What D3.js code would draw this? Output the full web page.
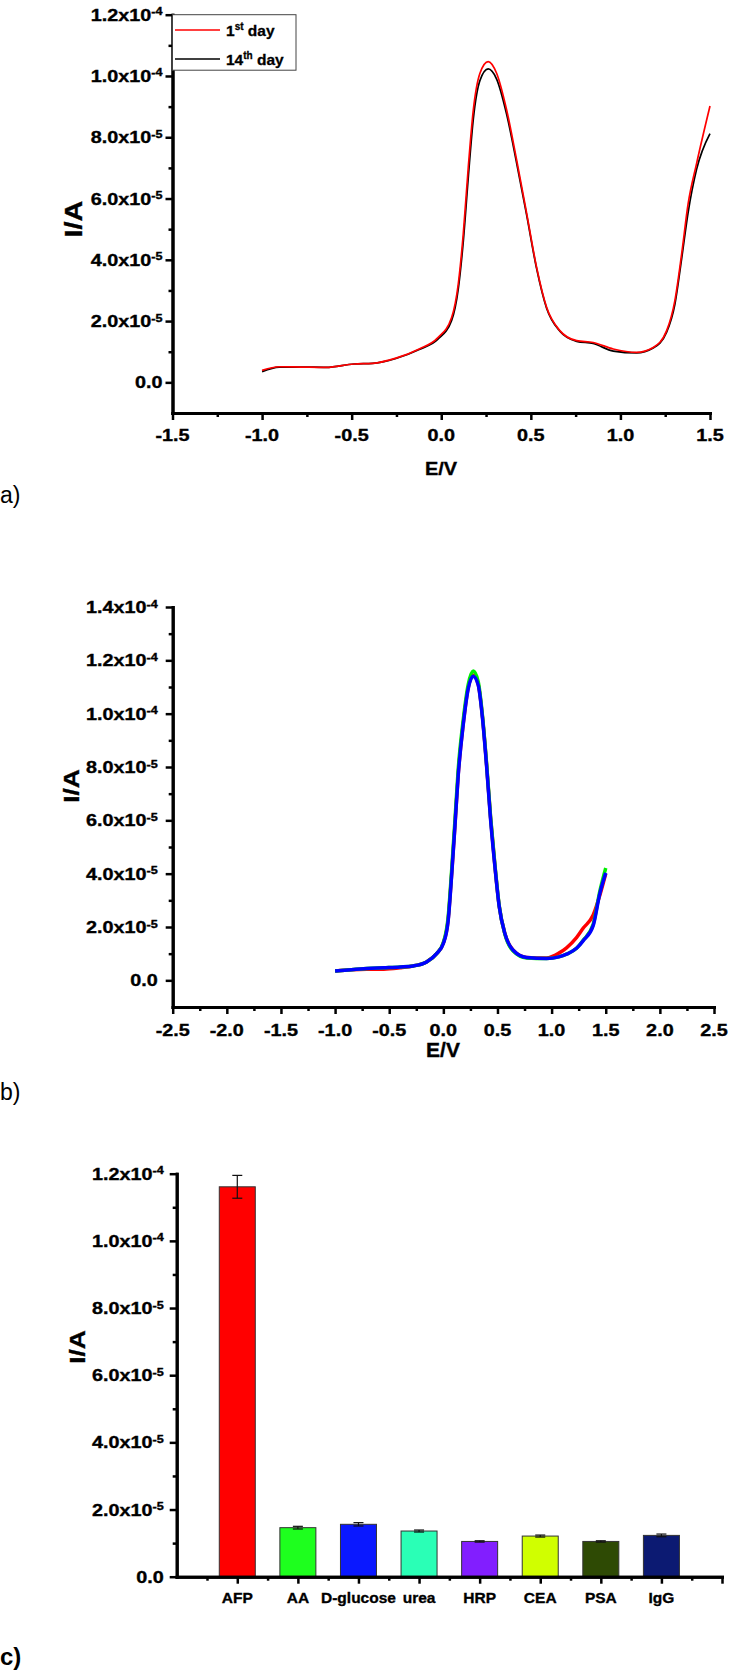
<!DOCTYPE html>
<html>
<head>
<meta charset="utf-8">
<script src="https://cdn.jsdelivr.net/npm/d3@7"></script>
<style>
  body { margin: 0; background: #fff; }
  svg text { font-family: "Liberation Sans", Arial, sans-serif; }
</style>
</head>
<body>
<svg width="729" height="1678"></svg>
<script>
//data - panel a (current in units of 1e-5 A)
const aPotential = [-1.0, -0.904, -0.78, -0.643, -0.487, -0.383, -0.253, -0.123, -0.02, 0.058, 0.095, 0.123, 0.151, 0.179, 0.216, 0.262, 0.309, 0.365, 0.421, 0.477, 0.532, 0.588, 0.662, 0.756, 0.848, 0.96, 1.09, 1.183, 1.258, 1.304, 1.342, 1.378, 1.425, 1.5];
const aDay1  = [0.39, 0.51, 0.50, 0.49, 0.60, 0.62, 0.79, 1.09, 1.45, 2.12, 3.21, 4.85, 7.03, 8.89, 10.09, 10.47, 10.09, 8.89, 7.25, 5.51, 3.76, 2.45, 1.69, 1.36, 1.30, 1.09, 0.98, 1.14, 1.69, 2.67, 4.20, 5.83, 7.14, 9.02];
const aDay14 = [0.35, 0.50, 0.50, 0.49, 0.60, 0.62, 0.78, 1.07, 1.40, 2.02, 3.05, 4.60, 6.70, 8.60, 9.85, 10.23, 9.90, 8.75, 7.15, 5.45, 3.72, 2.42, 1.67, 1.34, 1.27, 1.02, 0.96, 1.12, 1.64, 2.55, 4.05, 5.55, 6.95, 8.12];
const aLegend = [["1", "st", " day"], ["14", "th", " day"]];

//data - panel b
const bPotential = [-1.0, -0.85, -0.709, -0.55, -0.4, -0.278, -0.155, -0.062, 0.0, 0.045, 0.076, 0.107, 0.137, 0.183, 0.23, 0.276, 0.322, 0.362, 0.399, 0.436, 0.476, 0.516, 0.568, 0.645, 0.769, 0.953, 1.067, 1.138, 1.23, 1.291, 1.384, 1.446, 1.5];
const bRed   = [0.35, 0.40, 0.42, 0.42, 0.47, 0.54, 0.69, 1.00, 1.40, 2.30, 3.95, 5.80, 7.70, 9.60, 10.98, 11.45, 11.10, 9.85, 8.10, 6.10, 4.30, 2.78, 1.76, 1.13, 0.86, 0.84, 1.02, 1.22, 1.60, 1.95, 2.45, 3.20, 4.00];
const bGreen = [0.35, 0.40, 0.44, 0.47, 0.50, 0.54, 0.69, 1.00, 1.42, 2.40, 4.10, 6.00, 7.90, 9.75, 11.10, 11.60, 11.20, 9.90, 8.15, 6.15, 4.35, 2.80, 1.74, 1.10, 0.84, 0.82, 0.88, 0.98, 1.20, 1.50, 2.10, 3.35, 4.21];
const bBlue  = [0.35, 0.40, 0.44, 0.47, 0.50, 0.54, 0.69, 1.00, 1.38, 2.26, 3.90, 5.78, 7.67, 9.56, 10.94, 11.40, 11.07, 9.81, 8.05, 6.04, 4.28, 2.77, 1.76, 1.13, 0.86, 0.82, 0.88, 0.98, 1.20, 1.48, 2.05, 3.27, 4.03];

//data - panel c
const cCategories = ["AFP", "AA", "D-glucose", "urea", "HRP", "CEA", "PSA", "IgG"];
const cValues = [1.161e-4, 1.46e-5, 1.56e-5, 1.36e-5, 1.05e-5, 1.21e-5, 1.05e-5, 1.23e-5];
const cErrors = [3.4e-6, 4e-7, 5e-7, 3e-7, 2e-7, 3e-7, 2e-7, 4e-7];
const cColors = ["#ff0000", "#1eff1e", "#0a18ff", "#2affb6", "#821eff", "#d0ff00", "#2e4a04", "#0c1a72"];

//tick labels
const yLabels14 = [["0.0", ""], ["2.0x10", "-5"], ["4.0x10", "-5"], ["6.0x10", "-5"], ["8.0x10", "-5"], ["1.0x10", "-4"], ["1.2x10", "-4"], ["1.4x10", "-4"]];
const aXLabels = ["-1.5", "-1.0", "-0.5", "0.0", "0.5", "1.0", "1.5"];
const bXLabels = ["-2.5", "-2.0", "-1.5", "-1.0", "-0.5", "0.0", "0.5", "1.0", "1.5", "2.0", "2.5"];

//set up
const svg = d3.select('svg');
const SX = 1.2; // origin-style wide lettering

function wideText(parent, x, y, main, sup, o) {
  const t = parent.append('g')
    .attr('transform', `translate(${x},${y}) rotate(${o.rotate || 0}) scale(${o.sx || SX},1)`)
    .append('text')
    .attr('text-anchor', o.anchor || 'middle')
    .attr('font-size', o.size)
    .attr('font-weight', o.weight || 'bold')
    .attr('fill', '#000')
    .attr('stroke', '#000').attr('stroke-width', 0.35);
  t.append('tspan').text(main);
  if (sup) t.append('tspan').attr('dy', -5.5).attr('font-size', o.supSize || 10.5).text(sup);
  return t;
}

function axes(g, x, y, o) {
  const x0 = x.range()[0], y0 = y.range()[0];
  const yAx = g.append('g').attr('transform', `translate(${x0},0)`);
  yAx.call(d3.axisLeft(y).tickValues(o.yMinor).tickSize(4).tickSizeOuter(0).tickFormat(''));
  yAx.append('g').call(d3.axisLeft(y).tickValues(o.yMajor).tickSize(7).tickSizeOuter(0).tickFormat(''));
  const xAx = g.append('g').attr('transform', `translate(0,${y0})`);
  xAx.call(d3.axisBottom(x).tickValues(o.xMinor).tickSize(4).tickSizeOuter(0).tickFormat(''));
  xAx.append('g').call(d3.axisBottom(x).tickValues(o.xMajor).tickSize(7).tickSizeOuter(0).tickFormat(''));
  g.selectAll('.domain').attr('stroke', '#000').attr('stroke-width', 3).attr('stroke-linecap', 'square');
  g.selectAll('.tick line').attr('stroke', '#000').attr('stroke-width', 2.5);

  o.yMajor.forEach((v, i) => wideText(g, x0 - o.yGap, y(v) + 6, o.yLabels[i][0], o.yLabels[i][1], {anchor: 'end', size: 16.5}));
  o.xMajor.forEach((v, i) => {
    if (o.xLabels[i]) wideText(g, x(v), y0 + o.xGap, o.xLabels[i], '', {size: o.xSize || 16.5, sx: o.xSx});
  });
}

const line = (x, y) => d3.line().x(d => x(d[0])).y(d => y(d[1] * 1e-5)).curve(d3.curveMonotoneX);

//panel a
{
  const g = svg.append('g');
  const x = d3.scaleLinear().domain([-1.5, 1.5]).range([172.5, 710]);
  const y = d3.scaleLinear().domain([-1e-5, 1.2e-4]).range([413, 14.7]);
  axes(g, x, y, {
    yMajor: d3.range(7).map(i => i * 2e-5), yMinor: d3.range(6).map(i => (2 * i + 1) * 1e-5),
    xMajor: d3.range(7).map(i => -1.5 + i * 0.5), xMinor: d3.range(6).map(i => -1.25 + i * 0.5),
    yLabels: yLabels14, xLabels: aXLabels, yGap: 10, xGap: 28
  });
  [[aDay14, '#000'], [aDay1, '#ff0000']].forEach(([s, c]) => {
    g.append('path').datum(aPotential.map((p, i) => [p, s[i]]))
      .attr('fill', 'none').attr('stroke', c).attr('stroke-width', 1.7).attr('d', line(x, y));
  });
  // legend
  const lg = g.append('g');
  lg.append('rect').attr('x', 172.5).attr('y', 14.7).attr('width', 123.5).attr('height', 55.5)
    .attr('fill', '#fff').attr('stroke', '#444').attr('stroke-width', 1);
  ['#ff0000', '#000'].forEach((c, i) => {
    const ly = 30 + i * 29;
    lg.append('line').attr('x1', 175).attr('x2', 220).attr('y1', ly).attr('y2', ly).attr('stroke', c).attr('stroke-width', 1.7);
    const t = lg.append('text').attr('x', 226).attr('y', ly + 6).attr('font-size', 15.5).attr('font-weight', 'bold')
      .attr('stroke', '#000').attr('stroke-width', 0.3);
    t.append('tspan').text(aLegend[i][0]);
    t.append('tspan').attr('dy', -6).attr('font-size', 10).text(aLegend[i][1]);
    t.append('tspan').attr('dy', 6).text(aLegend[i][2]);
  });
  wideText(g, 441, 475, 'E/V', '', {size: 19, sx: 1.05});
  wideText(g, 82, 219, 'I/A', '', {size: 24, rotate: -90});
  g.append('text').attr('x', 0).attr('y', 503).attr('font-size', 23).text('a)');
}

//panel b
{
  const g = svg.append('g');
  const x = d3.scaleLinear().domain([-2.5, 2.5]).range([172.7, 714]);
  const y = d3.scaleLinear().domain([-1e-5, 1.4e-4]).range([1007, 607]);
  axes(g, x, y, {
    yMajor: d3.range(8).map(i => i * 2e-5), yMinor: d3.range(7).map(i => (2 * i + 1) * 1e-5),
    xMajor: d3.range(11).map(i => -2.5 + i * 0.5), xMinor: d3.range(10).map(i => -2.25 + i * 0.5),
    yLabels: yLabels14, xLabels: bXLabels, yGap: 15, xGap: 29
  });
  [[bRed, '#ff0000'], [bGreen, '#00ee00'], [bBlue, '#0000ff']].forEach(([s, c]) => {
    g.append('path').datum(bPotential.map((p, i) => [p, s[i]]))
      .attr('fill', 'none').attr('stroke', c).attr('stroke-width', 3.5).attr('d', line(x, y));
  });
  wideText(g, 443, 1057, 'E/V', '', {size: 20, sx: 1.05});
  wideText(g, 79, 786, 'I/A', '', {size: 22, rotate: -90});
  g.append('text').attr('x', 0).attr('y', 1100).attr('font-size', 23).text('b)');
}

//panel c
{
  const g = svg.append('g');
  const x = d3.scaleLinear().domain([0, 9]).range([176.7, 722]);
  const y = d3.scaleLinear().domain([0, 1.2e-4]).range([1576.7, 1173.7]);
  const bw = 36;
  g.selectAll('rect.bar').data(cValues).join('rect').attr('class', 'bar')
    .attr('x', (d, i) => x(i + 1) - bw / 2).attr('width', bw)
    .attr('y', d => y(d)).attr('height', d => y(0) - y(d))
    .attr('fill', (d, i) => cColors[i]).attr('stroke', '#333').attr('stroke-width', 1);
  const eb = g.selectAll('g.err').data(cValues).join('g').attr('class', 'err');
  eb.append('line').attr('x1', (d, i) => x(i + 1)).attr('x2', (d, i) => x(i + 1))
    .attr('y1', (d, i) => y(d + cErrors[i])).attr('y2', (d, i) => y(d - cErrors[i]));
  [1, -1].forEach(s => {
    eb.append('line').attr('x1', (d, i) => x(i + 1) - 5).attr('x2', (d, i) => x(i + 1) + 5)
      .attr('y1', (d, i) => y(d + s * cErrors[i])).attr('y2', (d, i) => y(d + s * cErrors[i]));
  });
  eb.selectAll('line').attr('stroke', '#111').attr('stroke-width', 1.2);
  axes(g, x, y, {
    yMajor: d3.range(7).map(i => i * 2e-5), yMinor: d3.range(6).map(i => (2 * i + 1) * 1e-5),
    xMajor: d3.range(1, 10), xMinor: d3.range(9).map(i => i + 0.5),
    yLabels: yLabels14, xLabels: cCategories, yGap: 13, xGap: 26, xSize: 15.5, xSx: 1.0
  });
  wideText(g, 85, 1347, 'I/A', '', {size: 22, rotate: -90});
  g.append('text').attr('x', 0).attr('y', 1665).attr('font-size', 24).attr('font-weight', 'bold').text('c)');
}
</script>
</body>
</html>
